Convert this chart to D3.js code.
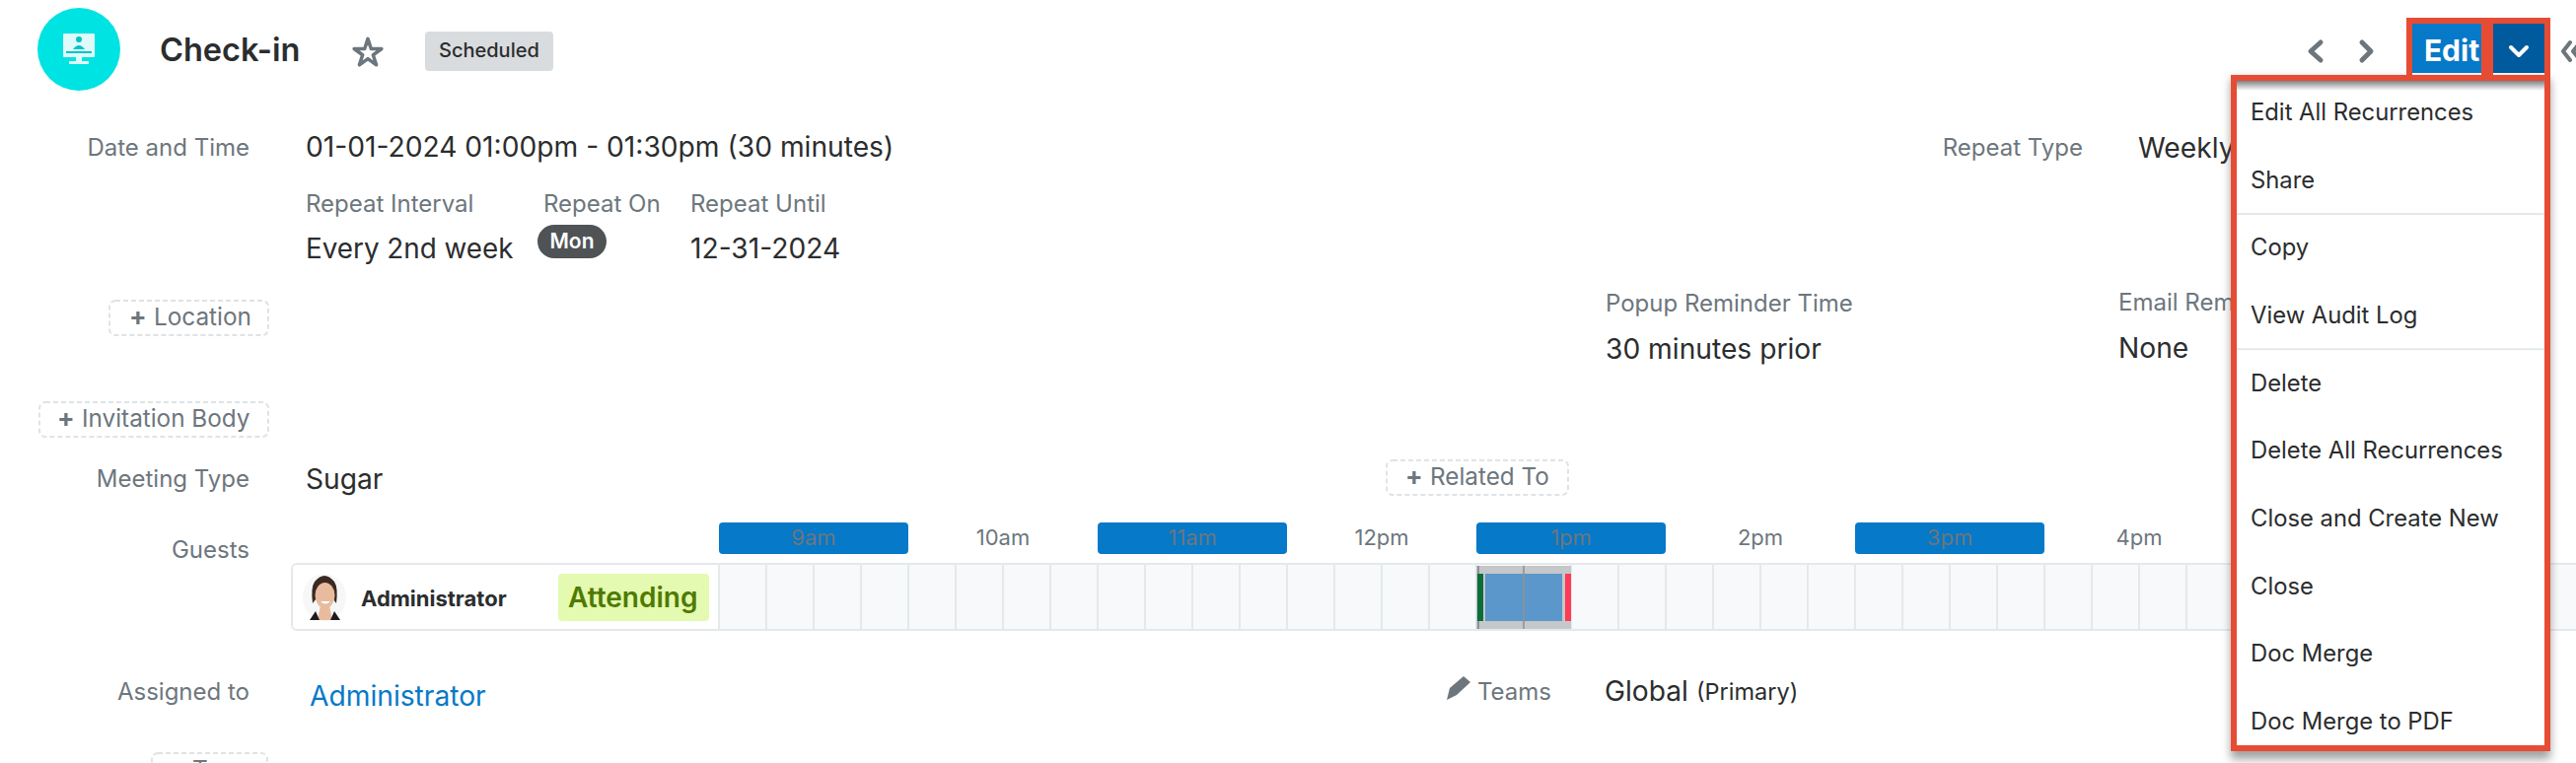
<!DOCTYPE html>
<html><head><meta charset="utf-8">
<script src="https://cdn.jsdelivr.net/npm/d3@7"></script>
<style>html,body{margin:0;padding:0;background:#fff;overflow:hidden}svg{display:block}text{font-family:Inter,"Noto Sans",sans-serif}</style>
</head><body><div id="c"></div>
<script>
const hours=[9,10,11,12,13,14,15,16,17];
const hourLabels=["9am","10am","11am","12pm","1pm","2pm","3pm","4pm","5pm"];
const highlightedHours=[9,11,13,15];
const meetingStart=13, meetingEnd=13.5;
const menuItems=["Edit All Recurrences","Share","Copy","View Audit Log","Delete","Delete All Recurrences","Close and Create New","Close","Doc Merge","Doc Merge to PDF"];
const menuDividersAfter=[1,3];

const W=2612,H=774;
const RED="#e64c33",GRAY="#6d767d",DARK="#2b2d2e",BLUE="#0679c8",LINE="#e4e9ec";
const svg=d3.select("#c").append("svg").attr("width",W).attr("height",H).attr("viewBox",`0 0 ${W} ${H}`);
const defs=svg.append("defs");
const blur=defs.append("filter").attr("id","blur").attr("x","-10%").attr("y","-10%").attr("width","120%").attr("height","120%");
blur.append("feGaussianBlur").attr("stdDeviation",5);
const sh=defs.append("linearGradient").attr("id","topShade").attr("x1",0).attr("x2",0).attr("y1",0).attr("y2",1);
sh.append("stop").attr("offset",0).attr("stop-color","#7f8386");
sh.append("stop").attr("offset",1).attr("stop-color","#ffffff");

function T(x,y,s,o={}){
  return svg.append("text").attr("x",x).attr("y",y).text(s)
    .attr("font-size",o.size||28.2).attr("font-weight",o.weight||400)
    .attr("fill",o.fill||DARK).attr("text-anchor",o.anchor||"start");
}
function R(x,y,w,h,fill,rx){return svg.append("rect").attr("x",x).attr("y",y).attr("width",w).attr("height",h).attr("fill",fill).attr("rx",rx||0);}
const label=(x,y,s,a)=>T(x,y,s,{size:24,fill:GRAY,anchor:a||"start"});

// header
svg.append("ellipse").attr("cx",80).attr("cy",50).attr("rx",42).attr("ry",42).attr("fill","#00e3e3");
R(64,34,32,24,"#dffafa",1);
svg.append("circle").attr("cx",80).attr("cy",40).attr("r",3).attr("fill","#00c4c8");
svg.append("path").attr("d","M74 50 Q80 42 86 50 Z").attr("fill","#00c4c8");
R(67,52,26,2,"#00c4c8");
R(77,58,6,4,"#dffafa");R(70,62,20,3,"#dffafa");
T(162,62,"Check-in",{size:32.5,weight:600});
svg.append("path").attr("d",d3.symbol(d3.symbolStar,240)()).attr("transform","translate(373,54)").attr("fill","none").attr("stroke",GRAY).attr("stroke-width",3.5).attr("stroke-linejoin","round");
R(431,32,130,40,"#d9dcdf",4);
T(445,58,"Scheduled",{size:20,weight:500});

// date row
label(253,158,"Date and Time","end");
T(310,159,"01-01-2024 01:00pm - 01:30pm (30 minutes)");
label(310,215,"Repeat Interval");label(551,215,"Repeat On");label(700,215,"Repeat Until");
T(310,262,"Every 2nd week",{size:27.8});
R(545,228,70,34,"#4f5356",17);
T(580,252,"Mon",{size:21,weight:600,fill:"#fff",anchor:"middle"});
T(700,262,"12-31-2024");
label(2112,158,"Repeat Type","end");
T(2168,160,"Weekly");

function chip(x,y,w,h,s,plusX,size){
  svg.append("rect").attr("x",x).attr("y",y).attr("width",w).attr("height",h).attr("rx",6).attr("fill","none")
    .attr("stroke","#dfe3e6").attr("stroke-width",2).attr("stroke-dasharray","5,3");
  T(plusX,y+h/2+7,"+",{size:26,weight:700,fill:GRAY});
  T(plusX+25,y+h/2+7,s,{size:size||24.3,fill:GRAY});
}
chip(111,305,161,35,"Location",131);
chip(40,408,232,35,"Invitation Body",58);
chip(1406,467,184,35,"Related To",1425);
// partly below the page edge in the reference: only the top of this chip shows
chip(154,764,117,35,"Teams",170);

label(1628,316,"Popup Reminder Time");
T(1628,364,"30 minutes prior");
label(2148,315,"Email Rem");
T(2148,363,"None");

label(253,494,"Meeting Type","end");
T(310,496,"Sugar");
label(253,566,"Guests","end");

// timeline
const x=d3.scaleLinear().domain([9,10]).range([729,921]);
const rowTop=573,rowBot=638;
R(295,rowTop,W-295,rowBot-rowTop,"#fff");
R(x(9),rowTop,W-x(9),rowBot-rowTop,"#f7f9fb");
const quarters=d3.range(9,17.01,0.25);
svg.append("g").selectAll("line").data(quarters).join("line")
  .attr("x1",d=>x(d)).attr("x2",d=>x(d)).attr("y1",rowTop).attr("y2",rowBot)
  .attr("stroke",LINE).attr("stroke-width",2);
svg.append("path").attr("d",`M${W} ${rowTop-1}H301a5 5 0 0 0 -5 5V${rowBot-4}a5 5 0 0 0 5 5H${W}`)
  .attr("fill","none").attr("stroke",LINE).attr("stroke-width",2);

svg.append("g").selectAll("rect").data(highlightedHours).join("rect")
  .attr("x",d=>x(d)).attr("width",d=>x(d+1)-x(d)).attr("y",530).attr("height",32).attr("rx",4).attr("fill",BLUE);
svg.append("g").selectAll("text").data(hours.slice(0,8)).join("text")
  .attr("x",d=>x(d+0.5)).attr("y",553).attr("text-anchor","middle").attr("font-size",22).attr("fill",GRAY)
  .text((d,i)=>hourLabels[i]);

// meeting block
const mx0=x(meetingStart),mx1=x(meetingEnd);
R(mx0,574,mx1-mx0,64,"#c6c7c9");
R(mx0+9,582,mx1-mx0-18,48,"#5b97cb");
R(mx0+1,582,6,48,"#0b6e3a");
R(mx1-6,582,6,48,"#ff3b55");
R(mx0+1,574,2,8,"#8f9295");R(mx0+1,630,2,8,"#8f9295");
R((mx0+mx1)/2-1,574,2,64,"#8f9295").attr("opacity",.8);

// avatar
const av=svg.append("g");
av.append("ellipse").attr("cx",329).attr("cy",606).attr("rx",22).attr("ry",24).attr("fill","#f7f7f7");
av.append("path").attr("d","M317 612Q315 596 319 590Q329 578 339 590Q343 596 341 612L338 608Q339 596 330 592Q320 596 320 608Z").attr("fill","#3a2a22");
av.append("ellipse").attr("cx",329.5).attr("cy",604).attr("rx",10).attr("ry",13).attr("fill","#e8bb9e");
av.append("path").attr("d","M322 629L325 614H334L337 629Z").attr("fill","#e8bb9e");
av.append("path").attr("d","M314 629L320 620L324 629ZM345 629L339 620L335 629Z").attr("fill","#1b1b1f");
av.append("path").attr("d","M325 610Q330 615 335 610Z").attr("fill","#fff");

T(366,615,"Administrator",{size:22,weight:700});
R(566,582,153,48,"#e3fab0",4);
T(576,616,"Attending",{size:28,weight:600,fill:"#4f7a00"});

label(253,710,"Assigned to","end");
T(314,716,"Administrator",{fill:BLUE});
svg.append("path").attr("d","M1467 710L1470 698L1484 686L1491 692L1477 705Z").attr("fill",GRAY);
label(1498,710,"Teams");
T(1627,711,"Global");
T(1720,710,"(Primary)",{size:23.5});

// top right
const chev=(d,sw)=>svg.append("path").attr("d",d).attr("fill","none").attr("stroke",GRAY).attr("stroke-width",sw).attr("stroke-linecap","round").attr("stroke-linejoin","round");
chev("M2353 43L2343 52L2353 61",5);
chev("M2395 43L2404 52L2395 61",5);
chev("M2606 43L2599 52L2606 61M2616 43L2609 52L2616 61",4);

// menu
R(2262,80,324,690,"#555").attr("filter","url(#blur)").attr("opacity",.55);
R(2265,79,318,680,"#fff");
R(2268,82,312,10,"url(#topShade)");
const menuY=d3.scaleLinear().domain([0,9]).range([122,740]);
svg.append("g").selectAll("text").data(menuItems).join("text")
  .attr("x",2282).attr("y",(d,i)=>menuY(i)).attr("font-size",23.8).attr("fill",DARK).text(d=>d);
svg.append("g").selectAll("line").data(menuDividersAfter).join("line")
  .attr("x1",2268).attr("x2",2580).attr("y1",d=>menuY(d+0.5)-8).attr("y2",d=>menuY(d+0.5)-8)
  .attr("stroke",LINE).attr("stroke-width",2);
svg.append("rect").attr("x",2265).attr("y",79).attr("width",318).attr("height",680).attr("fill","none").attr("stroke",RED).attr("stroke-width",6);

// buttons
R(2446,24,70,50,BLUE);
R(2528,24,52,50,"#005a9e");
T(2486,62,"Edit",{size:30,weight:700,fill:"#fff",anchor:"middle"});
svg.append("path").attr("d","M2546 48L2554 56L2562 48").attr("fill","none").attr("stroke","#fff").attr("stroke-width",4).attr("stroke-linecap","round").attr("stroke-linejoin","round");
svg.selectAll("rect.bx").data([[2443,76],[2525,58]]).join("rect").attr("class","bx")
  .attr("x",d=>d[0]).attr("width",d=>d[1]).attr("y",21).attr("height",58)
  .attr("fill","none").attr("stroke",RED).attr("stroke-width",6);
</script></body></html>
